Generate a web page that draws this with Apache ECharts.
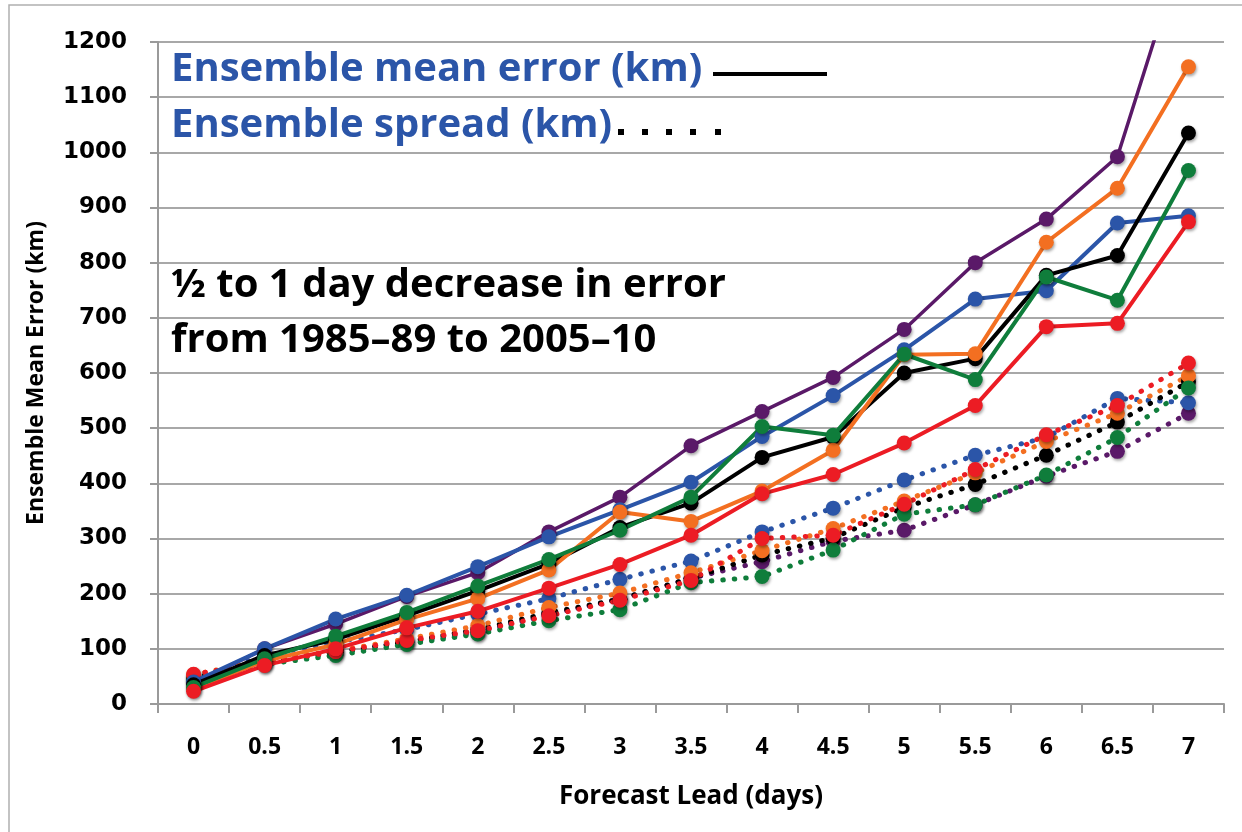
<!DOCTYPE html>
<html>
<head>
<meta charset="utf-8">
<style>
  html, body { margin: 0; padding: 0; background: #fff; }
  #main { width: 1242px; height: 832px; }
</style>
<script src="https://cdn.jsdelivr.net/npm/echarts@6/dist/echarts.min.js"></script>
</head>
<body>
<div id="main"></div>
<script>
// forecast lead (days)
var leads = ['0', '0.5', '1', '1.5', '2', '2.5', '3', '3.5', '4', '4.5', '5', '5.5', '6', '6.5', '7'];

// ensemble mean error (km), solid lines
var meanPurple = [38, 100, 145, 195, 238, 312, 375, 468, 530, 592, 679, 800, 879, 992, 1400];
var meanBlue   = [40, 100, 154, 197, 249, 303, 352, 402, 485, 559, 642, 734, 749, 872, 885];
var meanBlack  = [35, 88, 117, 160, 205, 254, 320, 364, 447, 484, 600, 626, 777, 813, 1035];
var meanOrange = [28, 78, 108, 153, 191, 243, 348, 331, 386, 460, 633, 635, 837, 935, 1155];
var meanGreen  = [30, 82, 123, 166, 214, 262, 315, 375, 503, 487, 634, 588, 774, 732, 967];
var meanRed    = [23, 70, 100, 138, 168, 210, 253, 306, 381, 416, 473, 541, 684, 690, 874];

// ensemble spread (km), dotted lines
var sprPurple = [48, 78, 95, 112, 130, 162, 190, 228, 258, 295, 315, 361, 413, 458, 527];
var sprBlue   = [45, 88, 112, 135, 163, 191, 226, 259, 312, 355, 406, 451, 483, 554, 546];
var sprBlack  = [48, 76, 93, 113, 135, 165, 190, 228, 270, 301, 356, 398, 451, 511, 584];
var sprOrange = [53, 80, 96, 118, 142, 175, 201, 238, 278, 318, 368, 419, 476, 527, 595];
var sprGreen  = [42, 72, 88, 108, 127, 151, 171, 220, 231, 279, 344, 361, 415, 483, 573];
var sprRed    = [54, 75, 95, 115, 133, 160, 188, 224, 300, 306, 362, 425, 488, 541, 618];

var colors = {
    purple: '#5a1968',
    blue: '#2b55a8',
    black: '#000000',
    orange: '#f36f21',
    green: '#0f7d3b',
    red: '#ec1c24'
};

var myChart = echarts.init(document.getElementById('main'));

function solid(name, color, data, w) {
    return {
        name: name, type: 'line', data: data, z: 3,
        symbol: 'circle', symbolSize: 15,
        lineStyle: { color: color, width: w || 4 },
        itemStyle: { color: color, shadowBlur: 3, shadowColor: 'rgba(0,0,0,0.35)', shadowOffsetX: 1, shadowOffsetY: 2 }
    };
}
function dotted(name, color, data) {
    return {
        name: name, type: 'line', data: data, z: 2,
        symbol: 'circle', symbolSize: 15,
        lineStyle: { color: color, width: 5, type: [0.5, 11], cap: 'round' },
        itemStyle: { color: color, shadowBlur: 3, shadowColor: 'rgba(0,0,0,0.35)', shadowOffsetX: 1, shadowOffsetY: 2 }
    };
}

var labelFont = 'Open Sans';

var option = {
    animation: false,
    backgroundColor: '#fff',
    grid: { left: 158, right: 18, top: 42, bottom: 128 },
    xAxis: {
        type: 'category',
        data: leads,
        boundaryGap: true,
        name: 'Forecast Lead (days)',
        nameLocation: 'middle',
        nameGap: 80,
        nameTextStyle: { fontFamily: labelFont, fontWeight: 'bold', fontSize: 26, color: '#000' },
        axisLine: { lineStyle: { color: '#9a9a9a', width: 2 } },
        axisTick: { show: true, length: 9, lineStyle: { color: '#9a9a9a', width: 2 } },
        axisLabel: { margin: 32, fontFamily: labelFont, fontWeight: 'bold', fontSize: 23, color: '#000' },
        splitLine: { show: false }
    },
    yAxis: {
        type: 'value',
        min: 0, max: 1200, interval: 100,
        name: 'Ensemble Mean Error (km)',
        nameLocation: 'middle',
        nameGap: 110,
        nameTextStyle: { fontFamily: labelFont, fontWeight: 'bold', fontSize: 23, color: '#000' },
        axisLine: { show: true, lineStyle: { color: '#9a9a9a', width: 2 } },
        axisTick: { show: true, length: 8, lineStyle: { color: '#9a9a9a', width: 2 } },
        axisLabel: {
            margin: 31, fontFamily: 'DejaVu Sans', fontWeight: 'bold', fontSize: 23, color: '#000',
            formatter: function (v) { return String(v); }
        },
        splitLine: { lineStyle: { color: '#a8a8a8', width: 2 } }
    },
    series: [
        dotted('spread purple', colors.purple, sprPurple),
        dotted('spread blue', colors.blue, sprBlue),
        dotted('spread black', colors.black, sprBlack),
        dotted('spread orange', colors.orange, sprOrange),
        dotted('spread green', colors.green, sprGreen),
        dotted('spread red', colors.red, sprRed),
        solid('mean purple', colors.purple, meanPurple, 3.5),
        solid('mean blue', colors.blue, meanBlue),
        solid('mean black', colors.black, meanBlack),
        solid('mean orange', colors.orange, meanOrange),
        solid('mean green', colors.green, meanGreen),
        solid('mean red', colors.red, meanRed)
    ],
    graphic: [
        // outer frame
        { type: 'rect', shape: { x: 9, y: 5, width: 1300, height: 900 }, style: { fill: 'none', stroke: '#b0b0b0', lineWidth: 1.5 }, silent: true },
        { type: 'text', left: 171, top: 50, z: 10, style: { text: 'Ensemble mean error (km)', fill: '#2b55a8', font: 'bold 40px "Open Sans"' } },
        { type: 'text', left: 171, top: 106, z: 10, style: { text: 'Ensemble spread (km)', fill: '#2b55a8', font: 'bold 40px "Open Sans"' } },
        { type: 'line', z: 10, shape: { x1: 713, y1: 74, x2: 827, y2: 74 }, style: { stroke: '#000', lineWidth: 4 } },
        { type: 'rect', z: 10, shape: { x: 618, y: 129, width: 6, height: 6 }, style: { fill: '#000' } },
        { type: 'rect', z: 10, shape: { x: 642, y: 129, width: 6, height: 6 }, style: { fill: '#000' } },
        { type: 'rect', z: 10, shape: { x: 666, y: 129, width: 6, height: 6 }, style: { fill: '#000' } },
        { type: 'rect', z: 10, shape: { x: 690, y: 129, width: 6, height: 6 }, style: { fill: '#000' } },
        { type: 'rect', z: 10, shape: { x: 715, y: 129, width: 6, height: 6 }, style: { fill: '#000' } },
        { type: 'text', left: 171, top: 266, z: 10, style: { text: '½ to 1 day decrease in error', fill: '#000', font: 'bold 40px "Open Sans"' } },
        { type: 'text', left: 171, top: 321, z: 10, style: { text: 'from 1985–89 to 2005–10', fill: '#000', font: 'bold 40px "Open Sans"' } }
    ]
};

myChart.setOption(option);
</script>
</body>
</html>
